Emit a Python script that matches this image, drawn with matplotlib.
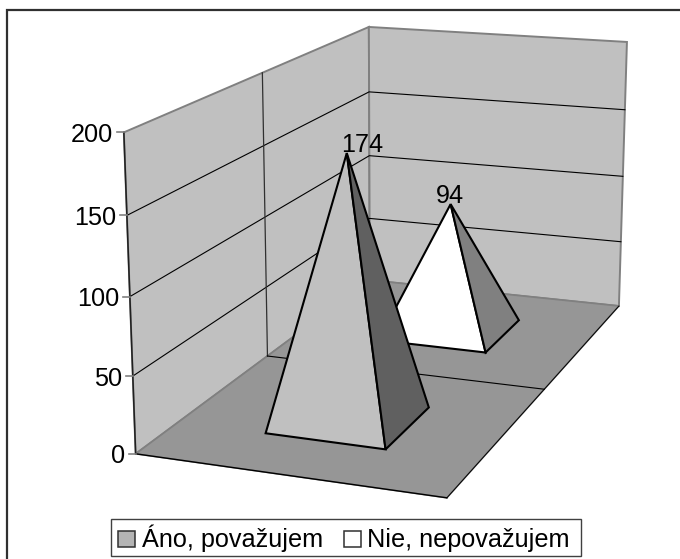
import numpy as np
import matplotlib
matplotlib.use("Agg")
import matplotlib.pyplot as plt
from matplotlib.patches import Polygon, Rectangle

plt.rcParams["font.family"] = ["Liberation Sans", "DejaVu Sans"]

series_names = ["Áno, považujem", "Nie, nepovažujem"]
series_values = [174, 94]
y_ticks = [0, 50, 100, 150, 200]
y_max = 200

# rohy 3D krabice: (x, hlbka, hodnota) -> pixel, z toho sa spocita projekcia
corners_3d = [(0, 0, 0), (1, 0, 0), (1, 2, 0), (0, 2, 0), (0, 1, 0), (1, 1, 0),
              (0, 0, 200), (0, 2, 200), (1, 2, 200), (0, 1, 200)]
corners_px = [(136, 454), (447, 498), (619, 306), (370, 280), (267, 356), (544, 389),
              (124, 132), (369, 27), (627, 42), (262, 73)]


def fit_camera(pts3, pts2):
    rows = []
    for (x, d, v), (u, w) in zip(pts3, pts2):
        p = [x, d, v / y_max, 1]
        rows.append(p + [0, 0, 0, 0] + [-u * c for c in p])
        rows.append([0, 0, 0, 0] + p + [-w * c for c in p])
    _, _, vt = np.linalg.svd(np.array(rows, dtype=float))
    return vt[-1].reshape(3, 4)


CAM = fit_camera(corners_3d, corners_px)


def proj(x, d, v):
    q = CAM @ np.array([x, d, v / y_max, 1.0])
    return q[0] / q[2], q[1] / q[2]


fig = plt.figure(figsize=(6.8, 5.59), dpi=100)
ax = fig.add_axes([0, 0, 1, 1])
ax.set_xlim(0, 680)
ax.set_ylim(559, 0)
ax.axis("off")

FONT = 18.2

# ramik - len hore a vlavo
ax.plot([6.5, 6.5, 680], [559, 10, 10], color="#303030", lw=1.6, solid_joinstyle="miter")

GREY = "#808080"
left_wall = [proj(0, 0, 0), proj(0, 2, 0), proj(0, 2, y_max), proj(0, 0, y_max)]
back_wall = [proj(0, 2, 0), proj(1, 2, 0), proj(1, 2, y_max), proj(0, 2, y_max)]
floor = [proj(0, 0, 0), proj(1, 0, 0), proj(1, 2, 0), proj(0, 2, 0)]
ax.add_patch(Polygon(left_wall, fc="#C0C0C0", ec=GREY, lw=1.4, zorder=1))
ax.add_patch(Polygon(back_wall, fc="#C0C0C0", ec=GREY, lw=1.4, zorder=1))
ax.add_patch(Polygon(floor, fc="#969696", ec=GREY, lw=1.2, zorder=1.5))

# mriezka
for t in y_ticks[1:-1]:
    pts = [proj(0, 0, t), proj(0, 2, t), proj(1, 2, t)]
    ax.plot(*zip(*pts), color="black", lw=0.8, zorder=2)
ax.plot(*zip(proj(0, 1, 0), proj(0, 1, y_max)), color="#303030", lw=0.9, zorder=2)
ax.plot(*zip(proj(0, 1, 0), proj(1, 1, 0)), color="black", lw=0.8, zorder=2)

# os y a znacky
ax.plot(*zip(proj(0, 0, 0), proj(0, 0, y_max)), color="#202020", lw=1.1, zorder=3)
ax.plot(*zip(proj(0, 0, 0), proj(1, 0, 0)), color="black", lw=1.0, zorder=3)
ax.plot(*zip(proj(1, 0, 0), proj(1, 2, 0)), color="black", lw=0.7, zorder=3)
for t in y_ticks:
    px, py = proj(0, 0, t)
    ax.plot([px - 7, px], [py, py], color=GREY, lw=1.2, zorder=3)
    ax.text(px - 11, py, str(t), ha="right", va="center_baseline", fontsize=FONT, color="black")

# pyramidy
front_colors = ["#C0C0C0", "#FFFFFF"]
side_colors = ["#606060", "#808080"]
label_offsets = [(15, -11), (-1, -11)]
for i in [1, 0]:
    val = series_values[i]
    x0, x1 = 0.3, 0.7
    d0, d1 = i + 0.3, i + 0.7
    apex = proj(0.5, i + 0.5, val)
    a, b, c = proj(x0, d0, 0), proj(x1, d0, 0), proj(x1, d1, 0)
    z = 5 - i
    ax.add_patch(Polygon([a, b, apex], fc=front_colors[i], ec="black", lw=1.5, joinstyle="miter", zorder=z))
    ax.add_patch(Polygon([b, c, apex], fc=side_colors[i], ec="black", lw=1.5, joinstyle="miter", zorder=z))
    ox, oy = label_offsets[i]
    ax.text(apex[0] + ox, apex[1] + oy, str(val), ha="center", va="center_baseline",
            fontsize=FONT, color="black", zorder=6)

# legenda
ax.add_patch(Rectangle((111, 519), 470, 37, fc="white", ec="#404040", lw=1.0, zorder=7))
ax.add_patch(Rectangle((118, 531), 17, 16, fc="#B4B4B4", ec="#303030", lw=1.1, zorder=8))
ax.add_patch(Rectangle((344, 531), 17, 16, fc="white", ec="#303030", lw=1.1, zorder=8))
ax.text(142, 547, series_names[0], ha="left", va="baseline", fontsize=FONT, zorder=8)
ax.text(367, 547, series_names[1], ha="left", va="baseline", fontsize=FONT, zorder=8)

fig.savefig("out.png", dpi=100)
